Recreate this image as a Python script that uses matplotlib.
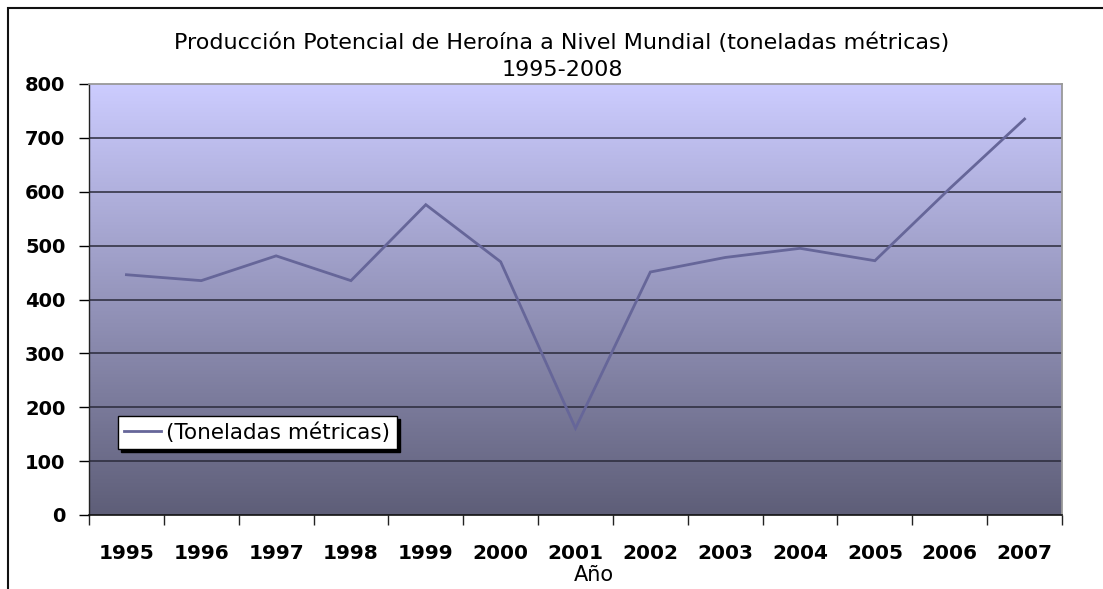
import numpy as np
import matplotlib
matplotlib.use("Agg")
import matplotlib.pyplot as plt
from matplotlib.colors import LinearSegmentedColormap
from matplotlib.patches import Rectangle

years = ["1995", "1996", "1997", "1998", "1999", "2000", "2001",
         "2002", "2003", "2004", "2005", "2006", "2007"]
values = [446, 435, 481, 435, 576, 470, 161, 451, 478, 495, 472, 606, 735]
yticks = [0, 100, 200, 300, 400, 500, 600, 700, 800]
title_line1 = "Producción Potencial de Heroína a Nivel Mundial (toneladas métricas)"
title_line2 = "1995-2008"
series_name = "(Toneladas métricas)"
xlabel = "Año"

W, H = 1103, 589
fig = plt.figure(figsize=(W / 100, H / 100), dpi=100)
fig.patch.set_facecolor("white")

def fx(px):
    return px / W

def fy(py):
    return 1 - py / H

ax = fig.add_axes([fx(89), fy(515), fx(1062) - fx(89), fy(84) - fy(515)])

x = np.arange(len(years))
ax.set_xlim(-0.5, len(years) - 0.5)
ax.set_ylim(0, 800)

# gradient background
cmap = LinearSegmentedColormap.from_list("bg", ["#5E5E78", "#CCCCFF"])
grad = np.linspace(0, 1, 256).reshape(-1, 1)
ax.imshow(grad, extent=[-0.5, len(years) - 0.5, 0, 800], origin="lower",
          aspect="auto", cmap=cmap, zorder=0)

for yv in yticks[1:-1]:
    ax.axhline(yv, color="#2a2a3a", lw=1.1, zorder=1)

ax.plot(x, values, color="#666699", lw=2.0, zorder=3, label=series_name,
        solid_joinstyle="miter")

ax.set_yticks(yticks)
ax.set_yticklabels([str(v) for v in yticks], fontsize=14, fontweight="bold")
ax.tick_params(axis="y", length=7, width=1, direction="out", pad=10, colors="black")

ax.set_xticks(x)
ax.set_xticklabels(years, fontsize=14.5, fontweight="bold")
ax.tick_params(axis="x", which="major", length=0, pad=21)
ax.set_xticks(np.arange(-0.5, len(years)), minor=True)
ax.tick_params(axis="x", which="minor", length=7, width=1, direction="out", color="#222222")

for s in ["top", "right"]:
    ax.spines[s].set_color("#999999")
    ax.spines[s].set_linewidth(1.3)
ax.spines["left"].set_color("#222222")
ax.spines["bottom"].set_color("#111111")
ax.spines["left"].set_linewidth(1.0)
ax.spines["bottom"].set_linewidth(1.2)

fig.text(fx(562), fy(43), title_line1, ha="center", va="center", fontsize=16)
fig.text(fx(562), fy(70), title_line2, ha="center", va="center", fontsize=16)
fig.text(fx(594), fy(575), xlabel, ha="center", va="center", fontsize=15)

leg = ax.legend(loc="upper left", bbox_to_anchor=(fx(118), fy(416)),
                bbox_transform=fig.transFigure, fontsize=15.5, frameon=True,
                fancybox=False, shadow={"color": "black", "alpha": 1.0},
                handlelength=1.7, handletextpad=0.25, borderpad=0.3,
                borderaxespad=0)
leg.get_frame().set_edgecolor("black")
leg.get_frame().set_linewidth(1.0)
leg.get_frame().set_facecolor("white")

# outer chart frame (cropped at right/bottom)
fig.add_artist(Rectangle((fx(8), -0.1), 1.2, fy(8) + 0.1, transform=fig.transFigure,
                         fill=False, edgecolor="#111111", lw=1.5))

fig.savefig("out.png", dpi=100)
